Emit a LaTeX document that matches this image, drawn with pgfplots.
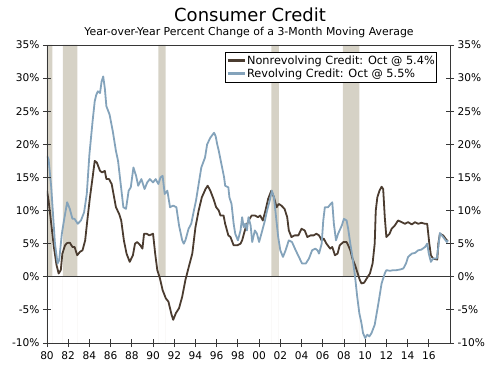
\documentclass[border=0pt]{standalone}
\usepackage{pgfplots}
\pgfplotsset{compat=1.18}
\usepackage{fontspec}
\setmainfont{DejaVu Sans}
\definecolor{nonrev}{RGB}{75,60,48}
\definecolor{rev}{RGB}{132,163,187}
\definecolor{recess}{RGB}{214,210,198}
\definecolor{axisgray}{RGB}{55,55,55}
\begin{document}
\begin{tikzpicture}
\pgfplotsset{every axis/.append style={scale only axis, width=403bp, height=298bp,
  xmin=1980, xmax=2018, ymin=-10, ymax=35, at={(0,0)}, anchor=south west,
  ytick={-10,-5,...,35},
  yticklabels={-10\%,-5\%,0\%,5\%,10\%,15\%,20\%,25\%,30\%,35\%},
  tick align=center, major tick length=8bp,
  tick style={axisgray, line width=0.8bp},
  ticklabel style={font=\fontsize{10.6bp}{12bp}\selectfont},
}}
\begin{axis}[
 axis on top,
 xtick={1980,1982,...,2016},
 xticklabels={80,82,84,86,88,90,92,94,96,98,00,02,04,06,08,10,12,14,16},
 xticklabel style={yshift=-1bp},
 xtick pos=bottom, ytick pos=left,
 axis line style={axisgray, line width=0.9bp},
 legend cell align=left,
 legend style={at={(0.968,0.977)}, anchor=north east, draw=black, line width=0.7bp,
   fill=white, font=\fontsize{11.3bp}{13.5bp}\selectfont,
   inner xsep=1bp, inner ysep=1.5bp, row sep=-1bp,
   nodes={inner xsep=1bp}},
 legend image code/.code={\draw[#1, line width=2.6bp] (0,0) -- (17bp,0);},
]
% recessions
\addplot[fill=recess, draw=none, forget plot] coordinates {(1980.0,-10) (1980.0,35) (1980.5,35) (1980.5,-10)} \closedcycle;
\addplot[fill=recess, draw=none, forget plot] coordinates {(1981.5,-10) (1981.5,35) (1982.87,35) (1982.87,-10)} \closedcycle;
\addplot[fill=recess, draw=none, forget plot] coordinates {(1990.5,-10) (1990.5,35) (1991.18,35) (1991.18,-10)} \closedcycle;
\addplot[fill=recess, draw=none, forget plot] coordinates {(2001.15,-10) (2001.15,35) (2001.86,35) (2001.86,-10)} \closedcycle;
\addplot[fill=recess, draw=none, forget plot] coordinates {(2007.9,-10) (2007.9,35) (2009.45,35) (2009.45,-10)} \closedcycle;
% zero line
\addplot[axisgray, line width=1bp, forget plot] coordinates {(1980,0) (2018,0)};
% nonrevolving
\addplot[nonrev, line width=1.8bp, line join=round] coordinates {
(1980.0,13.0) (1980.15,11.5) (1980.4,8) (1980.65,4.5) (1980.9,1.75) (1981.1,0.5) (1981.3,1) (1981.45,3.5) (1981.7,4.75) (1981.9,5.1) (1982.15,5.15) (1982.4,4.5) (1982.6,4.5) (1982.85,3.25) (1983.1,3.75) (1983.35,4) (1983.6,5.5) (1983.8,8.5) (1984.05,12) (1984.3,15) (1984.5,17.5) (1984.7,17.25) (1985.0,16) (1985.2,15.75) (1985.45,16) (1985.6,14.75) (1985.85,14.75) (1986.1,14) (1986.3,12.25) (1986.5,10.5) (1986.8,9.5) (1987.0,8.5) (1987.25,5.5) (1987.5,3.5) (1987.8,2.25) (1988.1,3.25) (1988.3,5) (1988.5,5.25) (1988.8,4.75) (1989.0,4.25) (1989.15,6.5) (1989.4,6.5) (1989.65,6.25) (1990.0,6.5) (1990.2,3.5) (1990.4,1) (1990.65,-0.25) (1990.9,-2) (1991.2,-3.25) (1991.45,-3.75) (1991.75,-5.75) (1991.9,-6.5) (1992.15,-5.5) (1992.45,-4.75) (1992.75,-3) (1993.05,-0.5) (1993.37,1.5) (1993.7,3.5) (1994.0,7.5) (1994.3,10) (1994.6,12) (1994.95,13.25) (1995.15,13.75) (1995.4,13) (1995.7,11.75) (1995.95,10.5) (1996.2,10) (1996.35,9.25) (1996.65,9.25) (1996.8,8) (1997.1,6.25) (1997.3,6) (1997.6,4.75) (1997.95,4.75) (1998.25,5) (1998.4,5.5) (1998.7,7.25) (1999.0,8.5) (1999.3,9.25) (1999.6,9.25) (1999.9,9) (2000.1,9.25) (2000.35,8.5) (2000.6,10) (2000.85,11.75) (2001.15,13) (2001.4,12) (2001.65,10.5) (2001.85,11) (2002.1,10.75) (2002.4,10.25) (2002.65,9) (2002.8,7) (2003.05,6) (2003.35,6.25) (2003.7,6.25) (2004.0,7.25) (2004.3,7) (2004.55,6) (2004.85,6.25) (2005.15,6.25) (2005.4,6.5) (2005.65,6.25) (2005.9,5.5) (2006.1,5.75) (2006.35,5) (2006.7,4.25) (2006.9,4.5) (2007.15,3.25) (2007.4,3.5) (2007.6,4.75) (2007.95,5.25) (2008.25,5.25) (2008.4,4.75) (2008.6,4) (2008.8,2.75) (2009.05,1.75) (2009.25,0.75) (2009.5,-0.5) (2009.65,-1) (2009.9,-0.9) (2010.15,-0.25) (2010.45,0.5) (2010.7,2) (2010.9,5) (2011.0,10) (2011.15,12) (2011.35,13) (2011.55,13.6) (2011.7,13.25) (2011.85,9) (2012.0,6) (2012.3,6.5) (2012.5,7.25) (2012.8,7.75) (2013.1,8.5) (2013.45,8.25) (2013.75,8) (2014.05,8.25) (2014.4,7.9) (2014.7,8.25) (2015.0,8) (2015.3,8.15) (2015.65,8) (2015.85,8) (2016.05,5) (2016.2,3.25) (2016.4,2.75) (2016.8,2.6) (2016.9,5) (2017.05,6.5) (2017.35,6.25) (2017.7,5.5) (2017.8,5.4)
};
\addlegendentry{Nonrevolving Credit: Oct @ 5.4\%}
% revolving
\addplot[rev, line width=1.8bp, line join=round] coordinates {
(1980.0,18.25) (1980.15,17.75) (1980.4,13.5) (1980.75,5) (1981.0,2) (1981.15,2.5) (1981.4,6.5) (1981.6,8.5) (1981.9,11.25) (1982.15,10.25) (1982.4,8.75) (1982.6,8.75) (1982.9,8) (1983.2,8.5) (1983.5,9.75) (1983.75,12.5) (1984.0,18.5) (1984.3,23.5) (1984.5,26.5) (1984.65,27.5) (1984.8,28) (1985.0,27.75) (1985.15,29.5) (1985.3,30.25) (1985.45,28.5) (1985.6,25.75) (1985.9,24.5) (1986.2,22) (1986.5,19) (1986.7,17.5) (1986.95,14) (1987.2,10.5) (1987.45,10.25) (1987.7,13) (1987.9,13.5) (1988.15,16.5) (1988.4,15.25) (1988.6,13.75) (1988.9,14.75) (1989.2,13.25) (1989.45,14.25) (1989.7,14.75) (1990.0,14.25) (1990.25,14.75) (1990.5,14) (1990.7,15) (1990.9,15.25) (1991.1,12.5) (1991.35,13) (1991.6,10.5) (1991.9,10.75) (1992.2,10.5) (1992.45,7.75) (1992.75,5.5) (1992.9,5) (1993.05,5.5) (1993.35,7.25) (1993.6,8) (1993.85,10) (1994.05,11.5) (1994.3,14) (1994.55,16.5) (1994.9,18) (1995.1,20) (1995.4,21) (1995.75,21.75) (1995.9,21.25) (1996.05,20) (1996.2,19) (1996.45,17) (1996.7,15) (1996.8,13.75) (1997.1,13.5) (1997.2,12) (1997.4,11) (1997.6,8) (1997.75,6.5) (1998.0,5.5) (1998.25,7) (1998.4,9) (1998.55,7.5) (1998.7,8) (1998.85,7) (1999.0,9) (1999.2,7.75) (1999.35,5.25) (1999.6,7) (1999.8,6.5) (2000.0,5.25) (2000.3,7) (2000.55,8.5) (2000.75,10) (2001.0,11.5) (2001.2,13) (2001.4,12) (2001.6,9) (2001.8,6) (2002.0,4) (2002.25,3) (2002.5,4) (2002.8,5.5) (2003.1,5.25) (2003.45,4) (2003.75,3) (2004.05,2) (2004.4,2) (2004.7,2.75) (2005.0,4) (2005.3,4.25) (2005.5,4) (2005.65,3.5) (2005.9,5) (2006.05,8.5) (2006.2,10.5) (2006.5,10.5) (2006.75,11) (2006.9,11.25) (2007.05,8) (2007.25,5.5) (2007.45,6.5) (2007.8,7.75) (2008.0,8.75) (2008.25,8.5) (2008.4,7.25) (2008.6,5) (2008.8,3) (2009.05,0) (2009.25,-3) (2009.45,-5.5) (2009.65,-7) (2009.8,-8.5) (2010.0,-9.25) (2010.2,-8.75) (2010.4,-9) (2010.6,-8.5) (2010.9,-7.25) (2011.25,-4) (2011.55,-1) (2011.85,0.5) (2012.0,1) (2012.35,0.9) (2012.65,1) (2012.95,1) (2013.3,1.1) (2013.6,1.25) (2013.85,2) (2014.05,3) (2014.4,3.5) (2014.7,3.6) (2015.0,4) (2015.3,4.1) (2015.65,4.5) (2015.85,5) (2016.0,3.5) (2016.2,2.25) (2016.4,2.75) (2016.75,2.75) (2016.9,4.5) (2017.05,6.6) (2017.35,6) (2017.7,5.25) (2017.8,5.5)
};
\addlegendentry{Revolving Credit: Oct @ 5.5\%}
\end{axis}
\begin{axis}[
 xtick=\empty, ytick pos=right, yticklabel pos=right,
 axis line style={draw=none},
]
\end{axis}
\node[anchor=base, font=\fontsize{18bp}{20bp}\selectfont] at (203bp,321bp) {Consumer Credit};
\node[anchor=base, font=\fontsize{10.9bp}{13bp}\selectfont] at (202bp,307bp) {Year-over-Year Percent Change of a 3-Month Moving Average};
\pgfresetboundingbox
\path[use as bounding box] (-47bp,-22bp) rectangle (453bp,343bp);
\end{tikzpicture}
\end{document}
